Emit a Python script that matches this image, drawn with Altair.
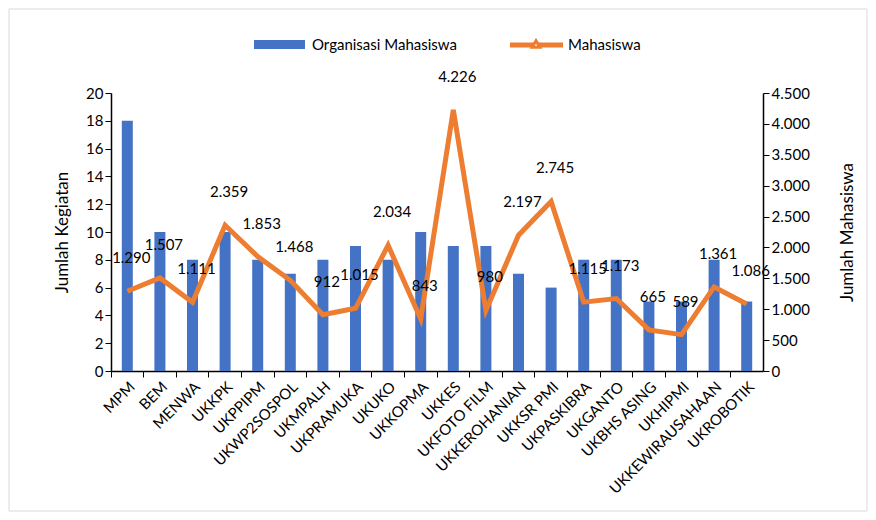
import altair as alt
import pandas as pd

categories = ["MPM", "BEM", "MENWA", "UKKPK", "UKPPIPM", "UKWP2SOSPOL", "UKMPALH",
              "UKPRAMUKA", "UKUKO", "UKKOPMA", "UKKES", "UKFOTO FILM", "UKKEROHANIAN",
              "UKKSR PMI", "UKPASKIBRA", "UKGANTO", "UKBHS ASING", "UKHIPMI",
              "UKKEWIRAUSAHAAN", "UKROBOTIK"]
kegiatan = [18, 10, 8, 10, 8, 7, 8, 9, 8, 10, 9, 9, 7, 6, 8, 8, 5, 5, 8, 5]
mahasiswa = [1290, 1507, 1111, 2359, 1853, 1468, 912, 1015, 2034, 843, 4226, 980,
             2197, 2745, 1115, 1173, 665, 589, 1361, 1086]

def fmt(v):
    return f"{v:,}".replace(",", ".")

df = pd.DataFrame({
    "cat": categories,
    "keg": kegiatan,
    "mhs": mahasiswa,
    "lbl": [fmt(v) for v in mahasiswa],
})

FONT = "Lato"
BLUE = "#4472C4"
ORANGE = "#ED7D31"
W, H = 652, 278

xenc = alt.X("cat:N", sort=categories, title=None,
             scale=alt.Scale(paddingInner=0.0, paddingOuter=0.0),
             axis=alt.Axis(labelAngle=315, labelAlign="right", labelBaseline="top",
                           labelFontSize=15, labelColor="#000000", labelFont=FONT,
                           bandPosition=0, ticks=True, tickSize=6, tickColor="#000000",
                           domainColor="#000000", domainWidth=1.5, labelPadding=2))

bars = alt.Chart(df).mark_bar(color=BLUE, size=11).encode(
    x=xenc,
    y=alt.Y("keg:Q", scale=alt.Scale(domain=[0, 20]),
            axis=alt.Axis(values=list(range(0, 21, 2)), title="Jumlah Kegiatan",
                          titleFontSize=17, titleFontWeight="normal", titleFont=FONT,
                          titleColor="#000000", titlePadding=14,
                          labelFontSize=15, labelFont=FONT, labelColor="#000000",
                          grid=False, domainColor="#000000", domainWidth=1.5,
                          tickColor="#000000", tickSize=6)),
)

yr = alt.Scale(domain=[0, 4500])
raxis = alt.Axis(orient="right", values=list(range(0, 4501, 500)),
                 labelExpr="replace(format(datum.value, ','), ',', '.')",
                 title="Jumlah Mahasiswa", titleAngle=270,
                 titleX=84, titleY=H / 2, titleAlign="center", titleBaseline="middle",
                 titleFontSize=17, titleFontWeight="normal", titleFont=FONT,
                 titleColor="#000000",
                 labelFontSize=15, labelFont=FONT, labelColor="#000000",
                 grid=False, domainColor="#000000", domainWidth=1.5,
                 tickColor="#000000", tickSize=6)
line = alt.Chart(df).mark_line(color=ORANGE, strokeWidth=5, strokeJoin="miter").encode(
    x=alt.X("cat:N", sort=categories),
    y=alt.Y("mhs:Q", scale=yr, axis=raxis),
)
labels = alt.Chart(df).mark_text(fontSize=15, font=FONT, color="#000000", dy=-33, dx=4).encode(
    x=alt.X("cat:N", sort=categories),
    y=alt.Y("mhs:Q", scale=yr, axis=raxis),
    text="lbl:N",
)

# legend
leg = pd.DataFrame({"k": [0]})
leg_bar = alt.Chart(leg).mark_rect(color=BLUE).encode(
    x=alt.value(143), x2=alt.value(194), y=alt.value(-53), y2=alt.value(-44))
leg_t1 = alt.Chart(leg).mark_text(align="left", baseline="middle", fontSize=15, font=FONT,
                                  color="#000000").encode(
    x=alt.value(201), y=alt.value(-48), text=alt.value("Organisasi Mahasiswa"))
leg_line = alt.Chart(leg).mark_rule(color=ORANGE, strokeWidth=5).encode(
    x=alt.value(399), x2=alt.value(452), y=alt.value(-48))
leg_tri = alt.Chart(leg).mark_point(shape="triangle-up", size=60, filled=True, fill="white",
                                    stroke=ORANGE, strokeWidth=3, opacity=1).encode(
    x=alt.value(425), y=alt.value(-49))
leg_t2 = alt.Chart(leg).mark_text(align="left", baseline="middle", fontSize=15, font=FONT,
                                  color="#000000").encode(
    x=alt.value(457), y=alt.value(-48), text=alt.value("Mahasiswa"))

border = alt.Chart(leg).mark_rect(fill=None, stroke="#D9D9D9", strokeWidth=1, clip=False).encode(
    x=alt.value(-102), x2=alt.value(756), y=alt.value(-84), y2=alt.value(418))

chart = alt.layer(
    border,
    bars,
    alt.layer(line, labels),
    leg_bar, leg_t1, leg_line, leg_tri, leg_t2,
).resolve_scale(y="independent").properties(
    width=W, height=H,
    autosize=alt.AutoSizeParams(type="none"),
    padding={"left": 103, "top": 85, "right": 105, "bottom": 141},
    background="white",
).configure_view(stroke=None)

chart.save("out.html", embed_options={"renderer": "svg", "actions": False})
